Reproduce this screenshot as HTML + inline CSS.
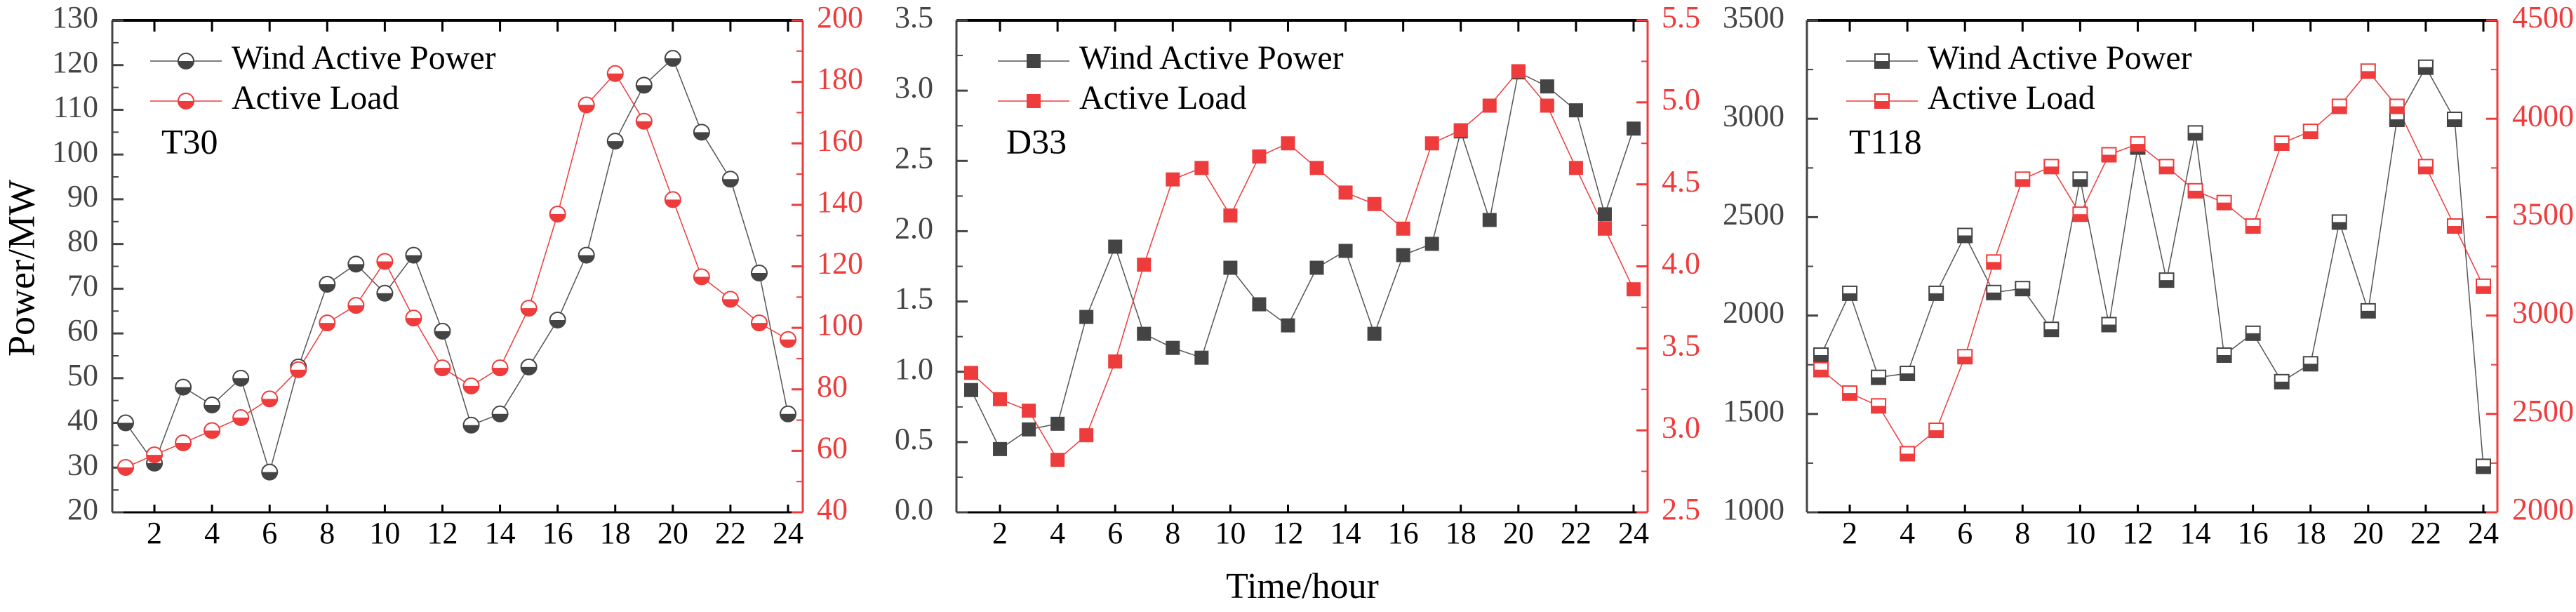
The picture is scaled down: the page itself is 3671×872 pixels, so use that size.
<!DOCTYPE html>
<html><head><meta charset="utf-8">
<style>
html,body{margin:0;padding:0;background:#fff;}
svg{display:block;font-family:"Liberation Serif","DejaVu Serif",serif;}
svg text{font-family:"Liberation Serif","DejaVu Serif",serif !important;}
</style></head>
<body>
<svg id="chart" width="3671" height="872" viewBox="0 0 3671 872" xmlns="http://www.w3.org/2000/svg" font-family="Liberation Serif, DejaVu Serif, serif">
<text x="36" y="382" font-size="54" fill="#000" text-anchor="middle" dominant-baseline="middle" transform="rotate(-90 36 382)">Power/MW</text>
<text x="1856" y="840" font-size="52" fill="#000" text-anchor="middle" dominant-baseline="middle">Time/hour</text>
</svg>
<script>
const hours = [1,2,3,4,5,6,7,8,9,10,11,12,13,14,15,16,17,18,19,20,21,22,23,24];
const xTickLabels = [2,4,6,8,10,12,14,16,18,20,22,24];

const t30Wind = [40,31,48,44,50,29,52.5,71,75.5,69,77.5,60.5,39.5,42,52.5,63,77.5,103,115.5,121.5,105,94.5,73.5,42];
const t30Load = [54.6,58.7,62.6,66.6,70.8,76.9,86.4,101.6,107.3,121.6,103.2,87,81.1,87,106.4,137,172.5,182.7,167.2,141.7,116.6,109.3,101.6,96.2];
const t30LeftTicks = [20,30,40,50,60,70,80,90,100,110,120,130];
const t30RightTicks = [40,60,80,100,120,140,160,180,200];

const d33Wind = [0.87,0.45,0.59,0.63,1.39,1.89,1.27,1.17,1.10,1.74,1.48,1.33,1.74,1.86,1.27,1.83,1.91,2.71,2.08,3.13,3.03,2.86,2.12,2.73];
const d33Load = [3.35,3.19,3.12,2.82,2.97,3.42,4.01,4.53,4.60,4.31,4.67,4.75,4.60,4.45,4.38,4.23,4.75,4.83,4.98,5.19,4.98,4.60,4.23,3.86];
const d33LeftTicks = ["0.0","0.5","1.0","1.5","2.0","2.5","3.0","3.5"];
const d33RightTicks = ["2.5","3.0","3.5","4.0","4.5","5.0","5.5"];

const t118Wind = [1799,2113,1686,1706,2113,2407,2117,2137,1930,2693,1954,2856,2180,2928,1799,1910,1664,1755,2475,2024,2997,3262,2997,1234];
const t118Load = [2725,2606,2541,2298,2417,2791,3272,3693,3757,3515,3817,3872,3757,3634,3574,3455,3876,3936,4063,4242,4063,3757,3455,3149];
const t118LeftTicks = [1000,1500,2000,2500,3000,3500];
const t118RightTicks = [2000,2500,3000,3500,4000,4500];

const NS = "http://www.w3.org/2000/svg";
const svg = document.getElementById('chart');
const GRAY = "#444", RED = "#ee3b3b";
const FONT = "Liberation Serif, DejaVu Serif, serif";
function mk(tag, attrs, parent){
  const e = document.createElementNS(NS, tag);
  for (const k in attrs) e.setAttribute(k, attrs[k]);
  if (tag === 'text') e.setAttribute('font-family', FONT);
  (parent||svg).appendChild(e);
  return e;
}

const panels = [
  {id:'t30', L:160, R:1144, x0:179, x1:1123, wind:t30Wind, load:t30Load, lt:t30LeftTicks, rt:t30RightTicks, marker:'circle', label:'T30', legX:214, lblX:230, rLblX:1164, lLblX:140},
  {id:'d33', L:1363, R:2348, x0:1384, x1:2328, wind:d33Wind, load:d33Load, lt:d33LeftTicks, rt:d33RightTicks, marker:'square', label:'D33', legX:1422, lblX:1434, rLblX:2368, lLblX:1330},
  {id:'t118', L:2575, R:3559, x0:2595, x1:3539, wind:t118Wind, load:t118Load, lt:t118LeftTicks, rt:t118RightTicks, marker:'halfsquare', label:'T118', legX:2631, lblX:2635, rLblX:3580, lLblX:2543}
];
const TOP = 29, BOT = 730;

function drawMarker(g, kind, cx, cy, color, stroke, name){
  if (kind === 'circle'){
    const r = 11;
    const grp = mk('g', {}, g);
    
    
    mk('circle', {cx:cx, cy:cy, r:r, fill:'#fff', stroke:stroke, 'stroke-width':2}, grp);
    mk('path', {d:`M${cx-r},${cy} A${r},${r} 0 0 0 ${cx+r},${cy} Z`, fill:color}, grp);
  } else if (kind === 'square'){
    const s = 20;
    const e = mk('rect', {x:cx-s/2, y:cy-s/2, width:s, height:s, fill:color}, g);
    
    
  } else {
    const s = 20;
    const grp = mk('g', {}, g);
    
    
    mk('rect', {x:cx-s/2, y:cy-s/2, width:s, height:s, fill:'#fff', stroke:stroke, 'stroke-width':2}, grp);
    mk('rect', {x:cx-s/2, y:cy, width:s, height:s/2, fill:color}, grp);
  }
}

panels.forEach(p => {
  const g = mk('g', {});
  
  
  const lv = p.lt.map(Number), rv = p.rt.map(Number);
  const lmin = lv[0], lmax = lv[lv.length-1], rmin = rv[0], rmax = rv[rv.length-1];
  const xs = h => p.x0 + (h-1)*(p.x1-p.x0)/23;
  const yl = v => BOT - (v-lmin)/(lmax-lmin)*(BOT-TOP);
  const yr = v => BOT - (v-rmin)/(rmax-rmin)*(BOT-TOP);

  const la = mk('line', {x1:p.L, y1:TOP, x2:p.L, y2:BOT, stroke:GRAY, 'stroke-width':3}, g);
  
  
  const ra = mk('line', {x1:p.R, y1:TOP, x2:p.R, y2:BOT, stroke:RED, 'stroke-width':3}, g);
  
  
  const ta = mk('line', {x1:p.L, y1:TOP, x2:p.R, y2:TOP, stroke:'#000', 'stroke-width':4}, g);
  
  
  const ba = mk('line', {x1:p.L, y1:BOT, x2:p.R, y2:BOT, stroke:'#000', 'stroke-width':3}, g);
  
  

  const lstep = lv[1]-lv[0];
  for (let i=0;i<lv.length;i++){
    const y = yl(lv[i]);
    mk('line', {x1:p.L, y1:y, x2:p.L+16, y2:y, stroke:GRAY, 'stroke-width':3}, g);
    if (i < lv.length-1){ const ym = yl(lv[i]+lstep/2); mk('line', {x1:p.L, y1:ym, x2:p.L+9, y2:ym, stroke:GRAY, 'stroke-width':2}, g); }
    const t = mk('text', {x:p.lLblX, y:y, 'font-size':44, fill:GRAY, 'text-anchor':'end', 'dominant-baseline':'middle'}, g);
    t.textContent = p.lt[i];
    
    
  }
  const rstep = rv[1]-rv[0];
  for (let i=0;i<rv.length;i++){
    const y = yr(rv[i]);
    mk('line', {x1:p.R, y1:y, x2:p.R-16, y2:y, stroke:RED, 'stroke-width':3}, g);
    if (i < rv.length-1){ const ym = yr(rv[i]+rstep/2); mk('line', {x1:p.R, y1:ym, x2:p.R-9, y2:ym, stroke:RED, 'stroke-width':2}, g); }
    const t = mk('text', {x:p.rLblX, y:y, 'font-size':44, fill:RED, 'text-anchor':'start', 'dominant-baseline':'middle'}, g);
    t.textContent = p.rt[i];
    
    
  }
  xTickLabels.forEach(h => {
    const x = xs(h);
    mk('line', {x1:x, y1:BOT, x2:x, y2:BOT-11, stroke:'#000', 'stroke-width':3}, g);
    mk('line', {x1:x, y1:TOP, x2:x, y2:TOP+16, stroke:'#000', 'stroke-width':3}, g);
    const t = mk('text', {x:x, y:764, 'font-size':44, fill:'#000', 'text-anchor':'middle', 'dominant-baseline':'middle'}, g);
    t.textContent = h;
    
    
  });

  const wpts = hours.map((h,i)=>xs(h)+','+yl(p.wind[i])).join(' ');
  const wl = mk('polyline', {points:wpts, fill:'none', stroke:'#555', 'stroke-width':1.5}, g);
  
  
  const lpts = hours.map((h,i)=>xs(h)+','+yr(p.load[i])).join(' ');
  const ll = mk('polyline', {points:lpts, fill:'none', stroke:RED, 'stroke-width':1.5}, g);
  
  
  hours.forEach((h,i)=>drawMarker(g, p.marker, xs(h), yl(p.wind[i]), '#444', '#444', 'wind-power-point'));
  hours.forEach((h,i)=>drawMarker(g, p.marker, xs(h), yr(p.load[i]), RED, RED, 'active-load-point'));

  const lg = mk('g', {}, g);
  
  
  [['Wind Active Power', 87, '#444', '#555'], ['Active Load', 144, RED, RED]].forEach(([name, y, c, lc]) => {
    const e = mk('g', {}, lg);
    
    
    mk('line', {x1:p.legX, y1:y, x2:p.legX+102, y2:y, stroke:lc, 'stroke-width':1.5}, e);
    drawMarker(e, p.marker, p.legX+51, y, c, c, 'legend-marker');
    const t = mk('text', {x:p.legX+116, y:y, 'font-size':48, fill:'#000', 'dominant-baseline':'middle'}, e);
    t.textContent = name;
  });
  const pl = mk('text', {x:p.lblX, y:207, 'font-size':50, fill:'#000', 'dominant-baseline':'middle'}, g);
  pl.textContent = p.label;
  
  
});
</script>
</body></html>
